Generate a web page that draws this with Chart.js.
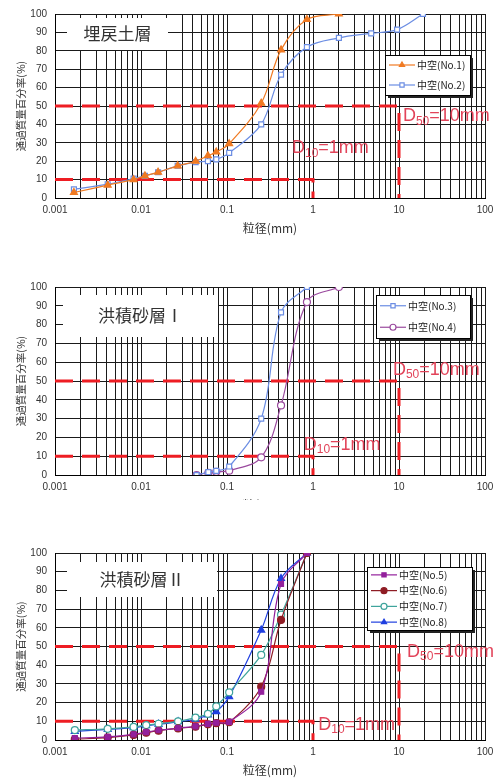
<!DOCTYPE html>
<html>
<head>
<meta charset="utf-8">
<script src="https://cdn.jsdelivr.net/npm/chart.js@4/dist/chart.umd.min.js"></script>
<style>
  body { margin: 0; background: #fff; width: 493px; height: 778px; overflow: hidden; position: relative; }
  .panel { position: absolute; left: 0; width: 493px; overflow: hidden; }
  canvas { display: block; }
</style>
</head>
<body>
<div class="panel" style="top:0px;height:240px"><canvas id="c1" width="493" height="240"></canvas></div>
<div class="panel" style="top:265px;height:235px"><canvas id="c2" width="493" height="252"></canvas></div>
<div class="panel" style="top:528px;height:250px"><canvas id="c3" width="493" height="250"></canvas></div>
<script>
// ---- axis ticks ----
const xDecades = [0.001, 0.01, 0.1, 1, 10, 100];
const xMinorSteps = [2, 3, 4, 5, 6, 7, 8, 9];
const yTicks = [0, 10, 20, 30, 40, 50, 60, 70, 80, 90, 100];

// ---- 埋戻土層 ----
const sizeNo1 = [0.00166, 0.0041, 0.0082, 0.0111, 0.0158, 0.0267, 0.0432, 0.0600, 0.075, 0.106, 0.25, 0.425, 0.85, 2.0];
const passNo1 = [3, 7, 10, 12, 14, 17.5, 20, 23, 25, 29.5, 51.5, 80.5, 97, 100];
const sizeNo2 = [0.00166, 0.0041, 0.0082, 0.0111, 0.0158, 0.0267, 0.0432, 0.0600, 0.075, 0.106, 0.25, 0.425, 0.85, 2.0, 4.75, 9.5, 19];
const passNo2 = [4.7, 7.5, 10.5, 12, 14, 17.5, 19.5, 20, 21, 24.5, 40, 67, 82, 87, 89.5, 91.5, 100];

// ---- 洪積砂層Ⅰ ----
const sizeNo3 = [0.0443, 0.0607, 0.075, 0.106, 0.25, 0.425, 0.85];
const passNo3 = [0, 1.5, 2.2, 4.5, 30, 86.5, 100];
const sizeNo4 = [0.0443, 0.0607, 0.075, 0.106, 0.25, 0.425, 0.85, 2.0];
const passNo4 = [0, 1.2, 1.7, 2.3, 9.4, 37, 92, 100];

// ---- 洪積砂層Ⅱ ----
const sizeLower = [0.0017, 0.0041, 0.0082, 0.0115, 0.016, 0.027, 0.043, 0.060, 0.075, 0.106, 0.25, 0.425, 0.85];
const passNo5 = [1, 1.7, 3, 4.2, 5.2, 6.4, 7.3, 8.6, 9.2, 9.7, 25.8, 83.4, 100];
const passNo6 = [0.4, 1.3, 2.7, 3.9, 5, 6.2, 7.1, 8.4, 9, 9.5, 28.5, 64.2, 100];
const passNo7 = [5.3, 6, 7, 8, 8.7, 10, 12, 14, 18, 25.5, 45.5, 67, 100];
const passNo8 = [4.6, 5.7, 6.6, 7.7, 8.4, 9.8, 11.1, 13.4, 15.2, 23.2, 58.8, 86.4, 100];

// ---- reference lines D50 / D10 ----
const d50X = [0.001, 10, 10];
const d50Y = [50, 50, 0];
const d10X = [0.001, 1, 1];
const d10Y = [10, 10, 0];

const NUM_FONT = "'Liberation Sans', Arial, sans-serif";
const JP_FONT = "'Noto Sans CJK JP', sans-serif";

function pts(xs, ys) { return xs.map((x, i) => ({x: x, y: ys[i]})); }

function series(label, xs, ys, color, style, filled) {
  return {
    label: label, data: pts(xs, ys),
    borderColor: color, borderWidth: 1.2,
    pointStyle: style, pointRadius: style === 'triangle' ? 4 : 3.5,
    pointBorderColor: color, pointBorderWidth: 1.2,
    pointBackgroundColor: filled ? color : '#fff',
    backgroundColor: filled ? color : '#fff',
    tension: 0.35, order: 1
  };
}

function refLine(xs, ys) {
  return {
    label: '', isRef: true, data: pts(xs, ys),
    borderColor: '#ee1d23', borderWidth: 3, borderDash: [18, 9],
    pointRadius: 0, tension: 0, order: 9
  };
}

// sub-scripted label like D50=10mm
function subText(ctx, x, y, main, sub, rest) {
  ctx.font = '18px ' + NUM_FONT;
  ctx.fillText(main, x, y);
  let w = ctx.measureText(main).width;
  ctx.font = '12px ' + NUM_FONT;
  ctx.fillText(sub, x + w, y + 5);
  w += ctx.measureText(sub).width;
  ctx.font = '18px ' + NUM_FONT;
  ctx.fillText(rest, x + w, y);
}

const decoPlugin = {
  id: 'deco',
  afterDraw(chart, args, opts) {
    const ctx = chart.ctx;
    const xs = chart.scales.x, ys = chart.scales.y;
    const top = opts.canvasTop;
    ctx.save();
    // panel title box
    const tb = opts.titleBox;
    ctx.fillStyle = '#fff';
    ctx.fillRect(tb.x, tb.y - top, tb.w, tb.h);
    ctx.fillStyle = '#333';
    ctx.font = '17px ' + JP_FONT;
    ctx.textAlign = 'center';
    ctx.textBaseline = 'middle';
    ctx.fillText(opts.title, tb.x + tb.w / 2, tb.y - top + tb.h / 2);

    // D50 / D10 labels
    ctx.fillStyle = '#e2445a';
    ctx.textAlign = 'left';
    ctx.textBaseline = 'middle';
    subText(ctx, xs.getPixelForValue(opts.d50At[0]), ys.getPixelForValue(opts.d50At[1]), 'D', '50', '=10mm');
    subText(ctx, xs.getPixelForValue(opts.d10At[0]), ys.getPixelForValue(opts.d10At[1]), 'D', '10', '=1mm');

    // legend
    const lg = opts.legend;
    const ly = lg.y - top;
    const items = chart.data.datasets.filter(d => !d.isRef);
    ctx.fillStyle = '#222';
    ctx.fillRect(lg.x + 3, ly + 3, lg.w, lg.h);
    ctx.fillStyle = '#fff';
    ctx.fillRect(lg.x, ly, lg.w, lg.h);
    ctx.strokeStyle = '#000';
    ctx.lineWidth = 1;
    ctx.strokeRect(lg.x + 0.5, ly + 0.5, lg.w, lg.h);
    const rowH = lg.h / items.length;
    items.forEach((d, i) => {
      const cy = ly + rowH * (i + 0.5);
      const x0 = lg.x + 4, x1 = lg.x + 30;
      ctx.strokeStyle = d.borderColor;
      ctx.lineWidth = 1.2;
      ctx.setLineDash([]);
      ctx.beginPath(); ctx.moveTo(x0, cy); ctx.lineTo(x1, cy); ctx.stroke();
      ctx.fillStyle = d.pointBackgroundColor;
      Chart.helpers.drawPoint(ctx, {
        pointStyle: d.pointStyle, radius: 3, rotation: 0, borderWidth: 1.2
      }, (x0 + x1) / 2, cy);
      ctx.fillStyle = '#222';
      ctx.font = '10px ' + JP_FONT;
      ctx.textAlign = 'left';
      ctx.fillText(d.label, x1 + 2, cy);
    });
    ctx.restore();
  }
};

function makeChart(id, datasets, frame, deco) {
  const padTop = frame.plotTop - frame.top;
  const axisH = frame.top + frame.height - frame.plotBottom;
  deco.canvasTop = frame.top;
  return new Chart(document.getElementById(id), {
    type: 'line',
    data: {datasets: datasets},
    plugins: [decoPlugin],
    options: {
      responsive: false,
      animation: false,
      layout: {padding: {top: padTop, right: 8, bottom: 0, left: 0}},
      plugins: {legend: {display: false}, tooltip: {enabled: false}, deco: deco},
      scales: {
        x: {
          type: 'logarithmic', min: 0.001, max: 100,
          afterBuildTicks(scale) {
            const vals = [];
            xDecades.forEach((d, i) => {
              vals.push(d);
              if (i < xDecades.length - 1) xMinorSteps.forEach(k => vals.push(+(d * k).toPrecision(3)));
            });
            scale.ticks = vals.map(v => ({value: v}));
          },
          afterFit(scale) { scale.height = axisH; scale.paddingLeft = 0; scale.paddingRight = 0; },
          ticks: {
            autoSkip: false, maxRotation: 0, minRotation: 0, padding: 6,
            color: '#333', font: {family: NUM_FONT, size: 10},
            callback: v => xDecades.includes(v) ? String(v) : ''
          },
          grid: {color: '#1a1a1a', lineWidth: 1, drawTicks: false},
          border: {color: '#000', width: 1},
          title: {display: true, text: '粒径(mm)', color: '#333',
                  font: {family: JP_FONT, size: 12}, padding: {top: 0, bottom: frame.titlePad}}
        },
        y: {
          min: 0, max: 100,
          afterBuildTicks(scale) { scale.ticks = yTicks.map(v => ({value: v})); },
          afterFit(scale) { scale.width = 55; },
          ticks: {padding: 8, color: '#333', font: {family: NUM_FONT, size: 10}},
          grid: {color: '#1a1a1a', lineWidth: 1, drawTicks: false},
          border: {color: '#000', width: 1},
          title: {display: true, text: '通過質量百分率(%)', color: '#333',
                  font: {family: JP_FONT, size: 10.5}, padding: {top: 15, bottom: 0}}
        }
      }
    }
  });
}

makeChart('c1', [
  series('中空(No.1)', sizeNo1, passNo1, '#f07a22', 'triangle', true),
  series('中空(No.2)', sizeNo2, passNo2, '#6b8de3', 'rect', false),
  refLine(d50X, d50Y), refLine(d10X, d10Y)
], {top: 0, height: 240, plotTop: 11, plotBottom: 198, titlePad: 4}, {
  title: '埋戻土層',
  titleBox: {x: 67, y: 18, w: 101, h: 32},
  legend: {x: 385, y: 55, w: 85, h: 40},
  d50At: [11.1, 44.4], d10At: [0.57, 27]
});

makeChart('c2', [
  series('中空(No.3)', sizeNo3, passNo3, '#6b8de3', 'rect', false),
  series('中空(No.4)', sizeNo4, passNo4, '#9a4a9e', 'circle', false),
  refLine(d50X, d50Y), refLine(d10X, d10Y)
], {top: 265, height: 252, plotTop: 287, plotBottom: 475, titlePad: 4}, {
  title: '洪積砂層Ⅰ',
  titleBox: {x: 63, y: 295, w: 155, h: 42},
  legend: {x: 376, y: 295, w: 94, h: 43},
  d50At: [8.5, 56], d10At: [0.78, 16]
});

makeChart('c3', [
  series('中空(No.5)', sizeLower, passNo5, '#93209c', 'rect', true),
  series('中空(No.6)', sizeLower, passNo6, '#8e1c24', 'circle', true),
  series('中空(No.7)', sizeLower, passNo7, '#3fa49c', 'circle', false),
  series('中空(No.8)', sizeLower, passNo8, '#1f3fe0', 'triangle', true),
  refLine(d50X, d50Y), refLine(d10X, d10Y)
], {top: 528, height: 250, plotTop: 553, plotBottom: 740, titlePad: 0}, {
  title: '洪積砂層Ⅱ',
  titleBox: {x: 67, y: 562, w: 150, h: 35},
  legend: {x: 367, y: 567, w: 105, h: 63},
  d50At: [12.4, 47], d10At: [1.15, 8]
});
</script>
</body>
</html>
